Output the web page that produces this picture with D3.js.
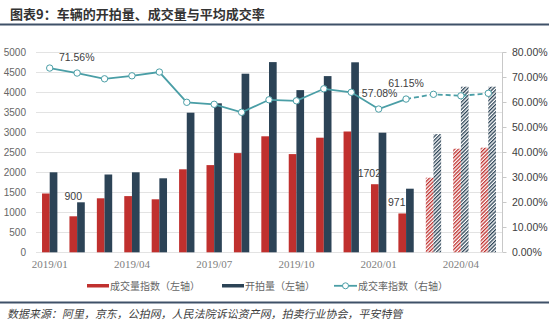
<!DOCTYPE html>
<html><head><meta charset="utf-8">
<script src="https://cdn.jsdelivr.net/npm/d3@7/dist/d3.min.js"></script>
<style>
html,body{margin:0;padding:0;background:#fff;}
svg{display:block;}
</style></head>
<body>
<svg id="c" width="550" height="333"></svg>
<script>
// ---- data ----
const months = ["2019/01","2019/02","2019/03","2019/04","2019/05","2019/06","2019/07","2019/08","2019/09","2019/10","2019/11","2019/12","2020/01","2020/02","2020/03","2020/04","2020/05"];
const dealIndex = [1470,900,1350,1405,1325,2075,2180,2480,2900,2455,2865,3020,1702,971,1865,2590,2615];
const auctionCount = [2000,1250,1945,2000,1850,3490,3725,4465,4755,4055,4405,4750,2990,1590,2955,4140,4140];
const dealRate = [0.737,0.717,0.694,0.706,0.721,0.600,0.592,0.560,0.610,0.606,0.654,0.640,0.573,0.613,0.632,0.626,0.636];
const forecastFrom = 14; // hatched bars from this index
const dashedFrom = 13;   // rate line dashed from this index
const leftTicks = [0,500,1000,1500,2000,2500,3000,3500,4000,4500,5000];
const rightTicks = [0,0.1,0.2,0.3,0.4,0.5,0.6,0.7,0.8];
const xTickLabels = ["2019/01","2019/04","2019/07","2019/10","2020/01","2020/04"];
const rateLabels = [{i:0,text:"71.56%"},{i:12,text:"57.08%"},{i:13,text:"61.15%"}];
const dealLabels = [{i:1,text:"900"},{i:12,text:"1702"},{i:13,text:"971"}];
const title = "图表9：车辆的开拍量、成交量与平均成交率";
const legendNames = ["成交量指数（左轴）","开拍量（左轴）","成交率指数（右轴）"];
const source = "数据来源：阿里，京东，公拍网，人民法院诉讼资产网，拍卖行业协会，平安特管";

const RED="#c0302e", DARK="#2c4356", TEAL="#4a9ea6", NAVY="#3f5168";
const svg = d3.select("#c");

const x = d3.scaleBand().domain(months).range([36,502]).paddingInner(0).paddingOuter(0);
const yL = d3.scaleLinear().domain([0,5000]).range([252.3,52.3]);
const yR = d3.scaleLinear().domain([0,0.8]).range([252.3,52.3]);
const bw = x.bandwidth()*0.28;
const cx = m => x(m)+x.bandwidth()/2;

// patterns
const defs = svg.append("defs");
[["hRed",RED],["hDark",DARK]].forEach(([id,col])=>{
  const p = defs.append("pattern").attr("id",id).attr("patternUnits","userSpaceOnUse")
    .attr("width",2.6).attr("height",2.6).attr("patternTransform","rotate(45)");
  p.append("rect").attr("x",0).attr("y",0).attr("width",1.3).attr("height",2.6).attr("fill",col);
});

// title
svg.append("text").attr("x",10).attr("y",19).text(title)
  .attr("font-family","'Noto Sans CJK SC'").attr("font-weight","bold").attr("font-size",13).attr("fill","#333");
svg.append("rect").attr("x",0).attr("y",23.5).attr("width",549).attr("height",2).attr("fill",NAVY);

// gridlines
svg.append("g").selectAll("line").data(leftTicks).join("line")
  .attr("x1",36).attr("x2",502).attr("y1",d=>Math.round(yL(d))+0.5).attr("y2",d=>Math.round(yL(d))+0.5)
  .attr("stroke","#e3e3e3").attr("stroke-width",1);

// left axis labels
svg.append("g").selectAll("text").data(leftTicks).join("text")
  .attr("x",26).attr("y",d=>yL(d)).attr("dy","0.35em").attr("text-anchor","end")
  .attr("font-family","'Liberation Sans'").attr("font-size",10).attr("fill","#666").text(d=>d);

// right axis
const rAxis = svg.append("g").attr("transform","translate(502,0)");
rAxis.append("line").attr("x1",0.5).attr("x2",0.5).attr("y1",yR(0.8)).attr("y2",yR(0)).attr("stroke","#c8c8c8");
rAxis.selectAll("line.t").data(rightTicks).join("line").attr("class","t")
  .attr("x1",0.5).attr("x2",4.5).attr("y1",d=>Math.round(yR(d))+0.5).attr("y2",d=>Math.round(yR(d))+0.5).attr("stroke","#c8c8c8");
rAxis.selectAll("text").data(rightTicks).join("text")
  .attr("x",10).attr("y",d=>yR(d)).attr("dy","0.35em")
  .attr("font-family","'Liberation Sans'").attr("font-size",10.5).attr("fill","#404040")
  .text(d=>d3.format(".2%")(d));

// x labels
svg.append("g").selectAll("text").data(xTickLabels).join("text")
  .attr("x",d=>cx(d)).attr("y",268).attr("text-anchor","middle")
  .attr("font-family","'Liberation Serif'").attr("font-size",11).attr("fill","#808080").text(d=>d);

// bars
const bars = svg.append("g");
bars.selectAll("rect.r").data(months).join("rect").attr("class","r")
  .attr("x",(m)=>cx(m)-bw).attr("width",bw)
  .attr("y",(m,i)=>yL(dealIndex[i])).attr("height",(m,i)=>yL(0)-yL(dealIndex[i]))
  .attr("fill",(m,i)=>i>=forecastFrom?"url(#hRed)":RED);
bars.selectAll("rect.d").data(months).join("rect").attr("class","d")
  .attr("x",(m)=>cx(m)).attr("width",bw)
  .attr("y",(m,i)=>yL(auctionCount[i])).attr("height",(m,i)=>yL(0)-yL(auctionCount[i]))
  .attr("fill",(m,i)=>i>=forecastFrom?"url(#hDark)":DARK);

// rate line
const pts = months.map((m,i)=>[cx(m),yR(dealRate[i])]);
const line = d3.line();
svg.append("path").attr("d",line(pts.slice(0,dashedFrom+1))).attr("fill","none").attr("stroke",TEAL).attr("stroke-width",1.8);
svg.append("path").attr("d",line(pts.slice(dashedFrom))).attr("fill","none").attr("stroke",TEAL).attr("stroke-width",1.8).attr("stroke-dasharray","5,3");
svg.append("g").selectAll("circle").data(pts).join("circle")
  .attr("cx",d=>d[0]).attr("cy",d=>d[1]).attr("r",3.2).attr("fill","#fff").attr("stroke",TEAL).attr("stroke-width",1);

// data labels
const lblFont = "'Liberation Sans'";
const rateOff = {0:[27,-7],12:[1,-12],13:[0,-12]};
svg.append("g").selectAll("text").data(rateLabels).join("text")
  .attr("x",d=>pts[d.i][0]+rateOff[d.i][0]).attr("y",d=>pts[d.i][1]+rateOff[d.i][1]).attr("text-anchor","middle")
  .attr("font-family",lblFont).attr("font-size",10.5).attr("fill","#404040").text(d=>d.text);
svg.append("g").selectAll("text").data(dealLabels).join("text")
  .attr("x",d=>cx(months[d.i])-bw/2-(d.i===1?0:5.5)).attr("y",d=>yL(dealIndex[d.i])-(d.i===1?16:7)).attr("text-anchor","middle")
  .attr("font-family",lblFont).attr("font-size",10.5).attr("fill","#404040").text(d=>d.text);

// legend
const lg = svg.append("g").attr("font-family","'Noto Sans CJK SC'").attr("font-size",10).attr("fill","#666");
lg.append("rect").attr("x",87).attr("y",284).attr("width",22).attr("height",3.5).attr("fill",RED);
lg.append("text").attr("x",110).attr("y",289.5).text(legendNames[0]);
lg.append("rect").attr("x",222).attr("y",284).attr("width",22).attr("height",3.5).attr("fill",DARK);
lg.append("text").attr("x",245).attr("y",289.5).text(legendNames[1]);
lg.append("line").attr("x1",334).attr("x2",357).attr("y1",285.8).attr("y2",285.8).attr("stroke",TEAL).attr("stroke-width",1.8);
lg.append("circle").attr("cx",345.5).attr("cy",285.8).attr("r",3).attr("fill","#fff").attr("stroke",TEAL);
lg.append("text").attr("x",358).attr("y",289.5).text(legendNames[2]);

// bottom rule and source
svg.append("rect").attr("x",0).attr("y",301.5).attr("width",549).attr("height",2).attr("fill",NAVY);
svg.append("text").attr("transform","translate(7,318) skewX(-12)").text(source)
  .attr("font-family","'Noto Sans CJK SC'").attr("font-size",11).attr("fill","#404040");
</script>
</body></html>
